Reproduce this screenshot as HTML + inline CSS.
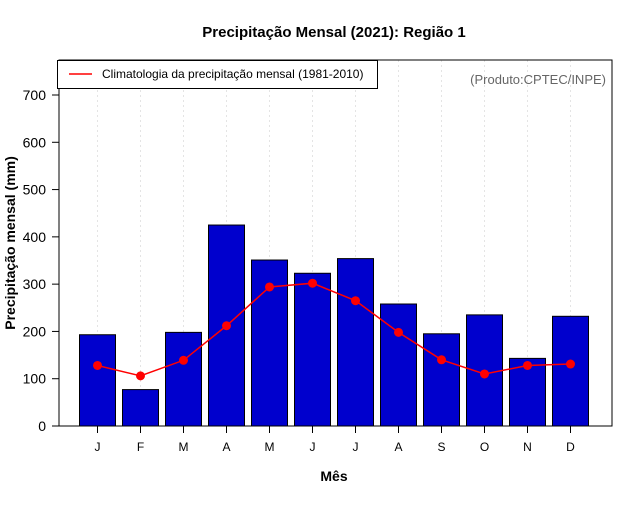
<!DOCTYPE html>
<html><head><meta charset="utf-8"><style>
body{margin:0;background:#fff}
text{font-family:"Liberation Sans",sans-serif}
</style></head><body>
<svg id="c" width="640" height="500" xmlns="http://www.w3.org/2000/svg">
<text x="334" y="37" text-anchor="middle" font-size="15" font-weight="bold">Precipitação Mensal (2021): Região 1</text>
<text x="334" y="481" text-anchor="middle" font-size="14" font-weight="bold">Mês</text>
<text transform="translate(15,243) rotate(-90)" text-anchor="middle" font-size="14" font-weight="bold">Precipitação mensal (mm)</text>
<g id="grid"></g><g id="bars"></g><g id="line"></g><g id="axes"></g>
<rect x="59" y="60" width="553" height="366" fill="none" stroke="#000" stroke-width="1"/>
<g>
<rect x="57.5" y="60.5" width="320" height="28" fill="#fff" stroke="#000"/>
<line x1="69" y1="74" x2="92" y2="74" stroke="red" stroke-width="1.5"/>
<text x="102" y="78" font-size="12">Climatologia da precipitação mensal (1981-2010)</text>
</g>
<text x="606" y="84" text-anchor="end" font-size="13" fill="#666">(Produto:CPTEC/INPE)</text>
</svg>
<script>
const months=["J","F","M","A","M","J","J","A","S","O","N","D"];
const precip=[193,77,198,425,351,323,354,258,195,235,143,232];
const climatology=[128,106,139,212,294,302,265,198,140,110,128,131];
const yTicks=[0,100,200,300,400,500,600,700];
const ns="http://www.w3.org/2000/svg";
const X=i=>97.5+i*43, Y=v=>426-v*(331/700);
function mk(t,a,p){const e=document.createElementNS(ns,t);for(const k in a)e.setAttribute(k,a[k]);p.appendChild(e);return e;}
const g=document.getElementById('grid'),b=document.getElementById('bars'),l=document.getElementById('line'),ax=document.getElementById('axes');
months.forEach((m,i)=>{
 let gl=mk('line',{x1:X(i),x2:X(i),y1:60,y2:426,stroke:'#e4e4e4','stroke-dasharray':'2,3'},g);
 
 
 let r=mk('rect',{x:X(i)-18,y:Y(precip[i]),width:36,height:426-Y(precip[i]),fill:'#0000cd',stroke:'#000','stroke-width':1},b);
 
 
 let t=mk('line',{x1:X(i),x2:X(i),y1:426,y2:433,stroke:'#000'},ax);
 
 
 let tl=mk('text',{x:X(i),y:451,'text-anchor':'middle','font-size':12},ax);tl.textContent=m;
 
 
});
let pl=mk('polyline',{points:climatology.map((v,i)=>X(i)+','+Y(v)).join(' '),fill:'none',stroke:'red','stroke-width':1.5},l);


climatology.forEach((v,i)=>{
 let c=mk('circle',{cx:X(i),cy:Y(v),r:4.5,fill:'red'},l);
 
 
});
yTicks.forEach(v=>{
 let t=mk('line',{x1:52,x2:59,y1:Y(v),y2:Y(v),stroke:'#000'},ax);
 
 
 let tl=mk('text',{x:46,y:Y(v)+5,'text-anchor':'end','font-size':14},ax);tl.textContent=v;
 
 
});
</script>
</body></html>
